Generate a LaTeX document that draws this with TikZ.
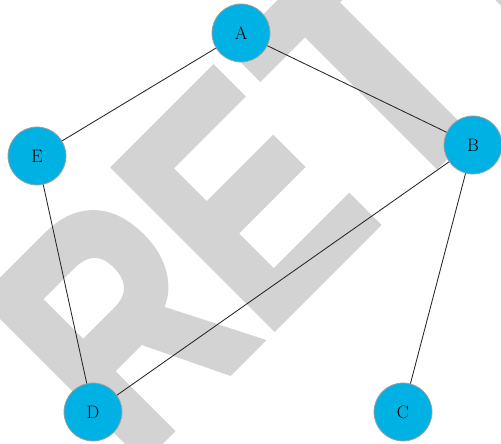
\documentclass[tikz,border=0pt]{standalone}
\usepackage{fontspec}
\newfontfamily\wmfont[FakeBold=3]{Liberation Sans Bold}
\begin{document}
\begin{tikzpicture}[x=1pt,y=1pt,
  vertex/.style={circle, fill=vcyan, draw=vrim, line width=0.8pt,
    minimum size=58pt, inner sep=0pt, font=\fontsize{18}{18}\selectfont},
  link/.style={draw=black!85, line width=0.85pt},
  stamp/.style={anchor=base west, inner sep=0pt, rotate=45, text=wmgray}]
\definecolor{vcyan}{RGB}{0,178,228}
\definecolor{vrim}{RGB}{160,160,160}
\definecolor{wmgray}{RGB}{211,211,211}
\useasboundingbox (0,0) rectangle (501,444);
% diagonal watermark lettering behind the graph
\begin{scope}
  \clip (0,0) rectangle (501,444);
  \node[stamp] (wm) at (131.0,-24.8)
    {\scalebox{0.79}[1]{\fontsize{324}{324}\wmfont
      RE\kern13pt\scalebox{1.11}[1]{T}\kern46pt RACTED}};
\end{scope}
% graph vertices
\node[vertex] (A) at (241,411) {A};
\node[vertex] (B) at (473,299) {B};
\node[vertex] (C) at (403,32) {C};
\node[vertex] (D) at (93,32) {D};
\node[vertex] (E) at (37,288) {E};
% edges
\draw[link] (A) -- (E);
\draw[link] (A) -- (B);
\draw[link] (E) -- (D);
\draw[link] (B) -- (D);
\draw[link] (B) -- (C);
\end{tikzpicture}
\end{document}
